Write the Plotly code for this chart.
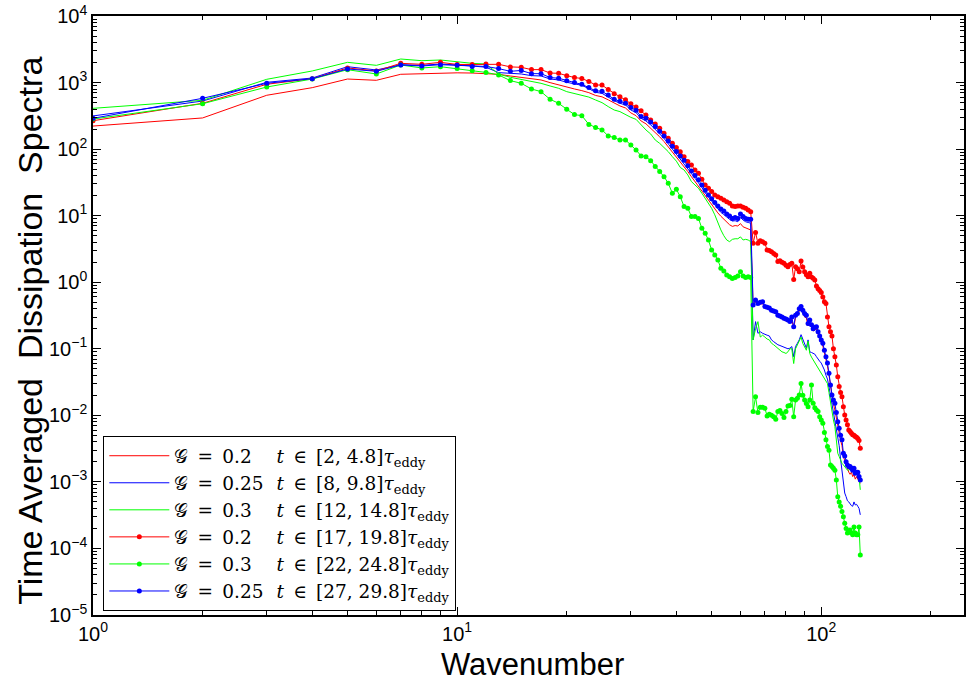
import plotly.graph_objects as go

# Wavenumbers 1..128
wavenumber = list(range(1, 129))

# Series values (one value per wavenumber)
red_solid = [
    222, 294, 644, 838, 1130, 1081, 1331, 1359, 1393, 1400, 1390, 1370,
    1330, 1255, 1200, 1145, 1094, 997, 919, 848, 801, 756, 705, 640,
    610, 550, 490, 445, 415, 350, 318, 265, 240, 208, 178, 153,
    130, 108, 90, 76, 65, 56, 46, 38.5, 32.5, 28, 23.5, 19.8,
    17, 14.8, 12.8, 11, 9.8, 8.8, 7.9, 7.3, 6.9, 7.1, 7.0, 7.6,
    6.8, 6.6, 6.4, 6.1,
    0.43, 0.51, 0.46, 0.47, 0.48, 0.41, 0.40, 0.39, 0.36, 0.35, 0.34, 0.31,
    0.30, 0.285, 0.27, 0.265, 0.255, 0.245, 0.28, 0.20, 0.30, 0.32, 0.37, 0.40,
    0.35, 0.30, 0.29, 0.22, 0.25, 0.21, 0.185, 0.19, 0.20, 0.165, 0.14, 0.125,
    0.11, 0.088, 0.07, 0.055, 0.04, 0.027, 0.019, 0.015, 0.012, 0.009, 0.0068, 0.0052,
    0.0042, 0.0035, 0.0024, 0.0021, 0.0018, 0.0016, 0.0014, 0.0013, 0.0014, 0.0012, 0.0013, 0.0011,
    0.0012, 0.0011, 0.0010, 0.00095,
]

blue_solid = [
    315, 528, 1009, 1170, 1731, 1545, 1855, 1815, 1900, 1855, 1774, 1700,
    1409, 1377, 1346, 1270, 1255, 1132, 1094, 1009, 952, 909, 810, 713,
    689, 605, 535, 488, 461, 387, 353, 290, 265, 232, 198, 170,
    145, 120, 100, 84, 72, 62, 51, 43, 36.5, 31.5, 26.5, 22,
    19, 16.5, 14.5, 12.6, 11.2, 10.4, 9.4, 8.8, 8.3, 8.4, 8.1, 9.4,
    8.6, 8.1, 7.9, 7.7,
    0.136, 0.256, 0.171, 0.18, 0.171, 0.163, 0.16, 0.156, 0.136, 0.128, 0.121, 0.115,
    0.112, 0.108, 0.105, 0.102, 0.100, 0.102, 0.108, 0.076, 0.108, 0.121, 0.136, 0.163,
    0.136, 0.121, 0.102, 0.136, 0.090, 0.088, 0.085, 0.083, 0.076, 0.069, 0.065, 0.061,
    0.055, 0.048, 0.040, 0.035, 0.027, 0.020, 0.015, 0.012, 0.009, 0.007, 0.0054, 0.0035,
    0.0022, 0.0014, 0.0009, 0.00068, 0.0006, 0.00052, 0.0005, 0.00046, 0.00044, 0.00043, 0.0005, 0.00045,
    0.00046, 0.00043, 0.0004, 0.00032,
]

green_solid = [
    410, 541, 1119, 1493, 2013, 1815, 2259, 2130, 2183, 2037, 1945, 1900,
    1340, 1200, 1120, 1057, 974, 888, 820, 730, 689, 651, 605, 547,
    499, 435, 387, 366, 326, 300, 280, 230, 194, 169, 137, 122,
    106, 91.6, 77, 66, 53, 48.6, 40.9, 32.5, 28.9, 25.8, 21.7, 18.2,
    15.3, 12.9, 10.3, 7.7, 6.1, 5.0, 4.31, 4.07, 4.41, 4.5, 4.5, 4.8,
    4.31, 4.41, 4.31, 4.07,
    0.136, 0.20, 0.256, 0.15, 0.16, 0.15, 0.14, 0.136, 0.121, 0.115, 0.108, 0.100,
    0.095, 0.090, 0.088, 0.085, 0.090, 0.100, 0.100, 0.060, 0.100, 0.115, 0.130, 0.150,
    0.120, 0.105, 0.095, 0.130, 0.085, 0.075, 0.068, 0.062, 0.056, 0.052, 0.048, 0.044,
    0.040, 0.036, 0.032, 0.030, 0.022, 0.015, 0.011, 0.0085, 0.0068, 0.004, 0.0027, 0.0024,
    0.0021, 0.0019, 0.0018, 0.0017, 0.0016, 0.0015, 0.0015, 0.0016, 0.0016, 0.0017, 0.0015, 0.00135,
    0.0014, 0.0013, 0.0012, 0.00076,
]

red_dots = [
    267, 488, 943, 1143, 1656, 1493, 1945, 1880, 2014, 1870, 1870, 1900,
    1880, 1720, 1694, 1565, 1565, 1390, 1377, 1270, 1190, 1150, 1040, 918,
    918, 785, 680, 610, 550, 480, 430, 378, 326, 274, 238, 205,
    173, 145, 122, 106, 91.6, 77, 65, 57.8, 48.6, 43.3, 35.2, 28.9,
    25.8, 23, 20.5, 19.3, 18.2, 17.2, 16.2, 15.3, 14, 13.7, 14, 14,
    13.4, 12.9, 12.2, 11.5,
    3.84, 5.6, 3.84, 4.2, 4.06, 3.84, 3.05, 3.0, 2.88, 2.7, 2.56, 2.04,
    2.1, 2.0, 1.92, 1.8, 1.71, 1.85, 1.92, 1.10, 1.71, 1.6, 1.44, 2.08,
    1.7, 1.44, 1.3, 1.21, 1.36, 1.2, 1.15, 1.08, 0.88, 0.80, 0.75, 0.70,
    0.60, 0.51, 0.48, 0.30, 0.215, 0.18, 0.156, 0.10, 0.076, 0.057, 0.038, 0.027,
    0.022, 0.019, 0.0135, 0.0101, 0.0085, 0.0072, 0.006, 0.0057, 0.0054, 0.0051, 0.005, 0.0048,
    0.0047, 0.0045, 0.0042, 0.0032,
]

green_dots = [
    283, 481, 857, 1130, 1560, 1346, 1837, 1656, 1731, 1630, 1505, 1420,
    1300, 1070, 974, 801, 730, 560, 488, 397, 330, 318, 235, 212,
    194, 158, 149, 137, 137, 115, 97, 79, 77, 67, 54.6, 45.9,
    38.6, 30.6, 21.7, 24.9, 19.3, 13.7, 12.9, 9.7, 9.7, 9.1, 6.45, 5.43,
    4.31, 3.05, 2.57, 2.16, 1.62, 1.47, 1.28, 1.21, 1.14, 1.18, 1.24, 1.44,
    1.24, 1.18, 1.21, 1.18,
    0.0114, 0.019, 0.011, 0.0132, 0.0132, 0.0128, 0.0098, 0.0104, 0.010, 0.0095, 0.0087, 0.0114,
    0.0118, 0.0107, 0.0093, 0.0114, 0.0138, 0.014, 0.0174, 0.0095, 0.017, 0.018, 0.0202, 0.030,
    0.020, 0.017, 0.015, 0.0135, 0.017, 0.0286, 0.0152, 0.013, 0.012, 0.0114, 0.0095, 0.0085,
    0.0076, 0.0055, 0.0043, 0.0034, 0.003, 0.0018, 0.0017, 0.0016, 0.0015, 0.00107, 0.0006, 0.0005,
    0.00043, 0.00036, 0.0003, 0.00024, 0.0002, 0.00017, 0.00018, 0.00019, 0.00017, 0.00016, 0.00021, 0.00017,
    0.00016, 0.00016, 0.00021, 0.00008,
]

blue_dots = [
    290, 580, 975, 1143, 1600, 1476, 1837, 1774, 1855, 1815, 1745, 1745,
    1620, 1475, 1520, 1360, 1360, 1190, 1160, 1060, 1000, 940, 840, 752,
    740, 650, 563, 522, 488, 422, 383, 308, 290, 255, 218, 186,
    158, 132, 110, 92, 79, 68, 56, 47, 40, 34.5, 29, 24,
    20.5, 18, 15.8, 14, 12.6, 11.8, 10.6, 9.9, 9.1, 9.4, 9.1, 10.6,
    9.7, 9.1, 8.8, 8.8,
    0.455, 0.54, 0.48, 0.50, 0.51, 0.43, 0.42, 0.41, 0.38, 0.37, 0.36, 0.32,
    0.31, 0.30, 0.287, 0.28, 0.27, 0.256, 0.30, 0.215, 0.32, 0.34, 0.40, 0.43,
    0.38, 0.34, 0.32, 0.24, 0.27, 0.23, 0.20, 0.21, 0.215, 0.18, 0.155, 0.136,
    0.121, 0.095, 0.076, 0.061, 0.043, 0.0286, 0.0202, 0.017, 0.0152, 0.011, 0.008, 0.0064,
    0.005, 0.0043, 0.0027, 0.00245, 0.002, 0.0018, 0.0017, 0.0017, 0.0016, 0.0015, 0.0016, 0.00135,
    0.0014, 0.0014, 0.0012, 0.00107,
]

EQ = "\u2002=\u2002"
IN = "\u2002∈\u2002"
GAP_SHORT = "\u2007\u2002\u2009"   # after a 1-decimal value (aligns the t column)
GAP_LONG = "\u2002\u2009"          # after a 2-decimal value
legend_labels = [
    f"𝒢{EQ}0.2{GAP_SHORT}<i>t</i>{IN}[2, 4.8]<i>τ</i><sub>eddy</sub>",
    f"𝒢{EQ}0.25{GAP_LONG}<i>t</i>{IN}[8, 9.8]<i>τ</i><sub>eddy</sub>",
    f"𝒢{EQ}0.3{GAP_SHORT}<i>t</i>{IN}[12, 14.8]<i>τ</i><sub>eddy</sub>",
    f"𝒢{EQ}0.2{GAP_SHORT}<i>t</i>{IN}[17, 19.8]<i>τ</i><sub>eddy</sub>",
    f"𝒢{EQ}0.3{GAP_SHORT}<i>t</i>{IN}[22, 24.8]<i>τ</i><sub>eddy</sub>",
    f"𝒢{EQ}0.25{GAP_LONG}<i>t</i>{IN}[27, 29.8]<i>τ</i><sub>eddy</sub>",
]

RED, BLUE, GREEN = "#ff0000", "#0000ff", "#00ff00"
series = [
    (red_solid, RED, False),
    (blue_solid, BLUE, False),
    (green_solid, GREEN, False),
    (red_dots, RED, True),
    (green_dots, GREEN, True),
    (blue_dots, BLUE, True),
]

fig = go.Figure()
for (vals, color, dots), name in zip(series, legend_labels):
    fig.add_trace(go.Scatter(
        x=wavenumber, y=vals, name=name,
        mode="lines+markers" if dots else "lines",
        line=dict(color=color, width=1),
        marker=dict(color=color, size=5, symbol="circle"),
    ))

x_major = [1, 10, 100]
x_major_text = ["10<sup>0</sup>", "10<sup>1</sup>", "10<sup>2</sup>"]
y_major = [1e-5, 1e-4, 1e-3, 1e-2, 1e-1, 1, 10, 100, 1000, 10000]
y_major_text = ["10<sup>−5</sup>", "10<sup>−4</sup>", "10<sup>−3</sup>", "10<sup>−2</sup>",
                "10<sup>−1</sup>", "10<sup>0</sup>", "10<sup>1</sup>", "10<sup>2</sup>",
                "10<sup>3</sup>", "10<sup>4</sup>"]
x_minor = [m * 10 ** e for e in range(0, 3) for m in range(2, 10)]
y_minor = [m * 10.0 ** e for e in range(-5, 4) for m in range(2, 10)]

axis_common = dict(
    type="log", showgrid=False, zeroline=False,
    showline=True, linecolor="black", linewidth=1.6, mirror="ticks",
    ticks="inside", ticklen=8, tickwidth=1, tickcolor="black",
    tickmode="array",
    tickfont=dict(family="Liberation Sans, Arial, sans-serif", size=20, color="black"),
)

fig.update_xaxes(
    **axis_common, range=[0, 2.392], tickvals=x_major, ticktext=x_major_text,
    minor=dict(ticks="inside", ticklen=4, tickwidth=1, tickcolor="black",
               tickmode="array", tickvals=x_minor, showgrid=False),
)
fig.update_yaxes(
    **axis_common, range=[-5, 4], tickvals=y_major, ticktext=y_major_text,
    minor=dict(ticks="inside", ticklen=4, tickwidth=1, tickcolor="black",
               tickmode="array", tickvals=y_minor, showgrid=False),
)

fig.update_layout(
    width=966, height=683,
    margin=dict(l=93, r=0, t=16, b=68),
    paper_bgcolor="white", plot_bgcolor="white",
    showlegend=True,
    legend=dict(
        x=0.0115, y=0.299, xanchor="left", yanchor="top",
        bgcolor="white", bordercolor="black", borderwidth=1.3,
        font=dict(family="DejaVu Serif, Liberation Serif, serif", size=18.5, color="black"),
        itemwidth=60, tracegroupgap=0,
    ),
    annotations=[
        dict(text="Wavenumber", xref="paper", yref="paper", x=0.505, y=-0.082,
             xanchor="center", yanchor="middle", showarrow=False,
             font=dict(family="Liberation Sans, Arial, sans-serif", size=31, color="black")),
        dict(text="Time Averaged\u00a0\u00a0Dissipation\u00a0\u00a0Spectra",
             xref="paper", yref="paper", x=-0.072, y=0.475, textangle=-90,
             xanchor="center", yanchor="middle", showarrow=False,
             font=dict(family="Liberation Sans, Arial, sans-serif", size=34, color="black")),
    ],
)

fig.write_html("out.html")
